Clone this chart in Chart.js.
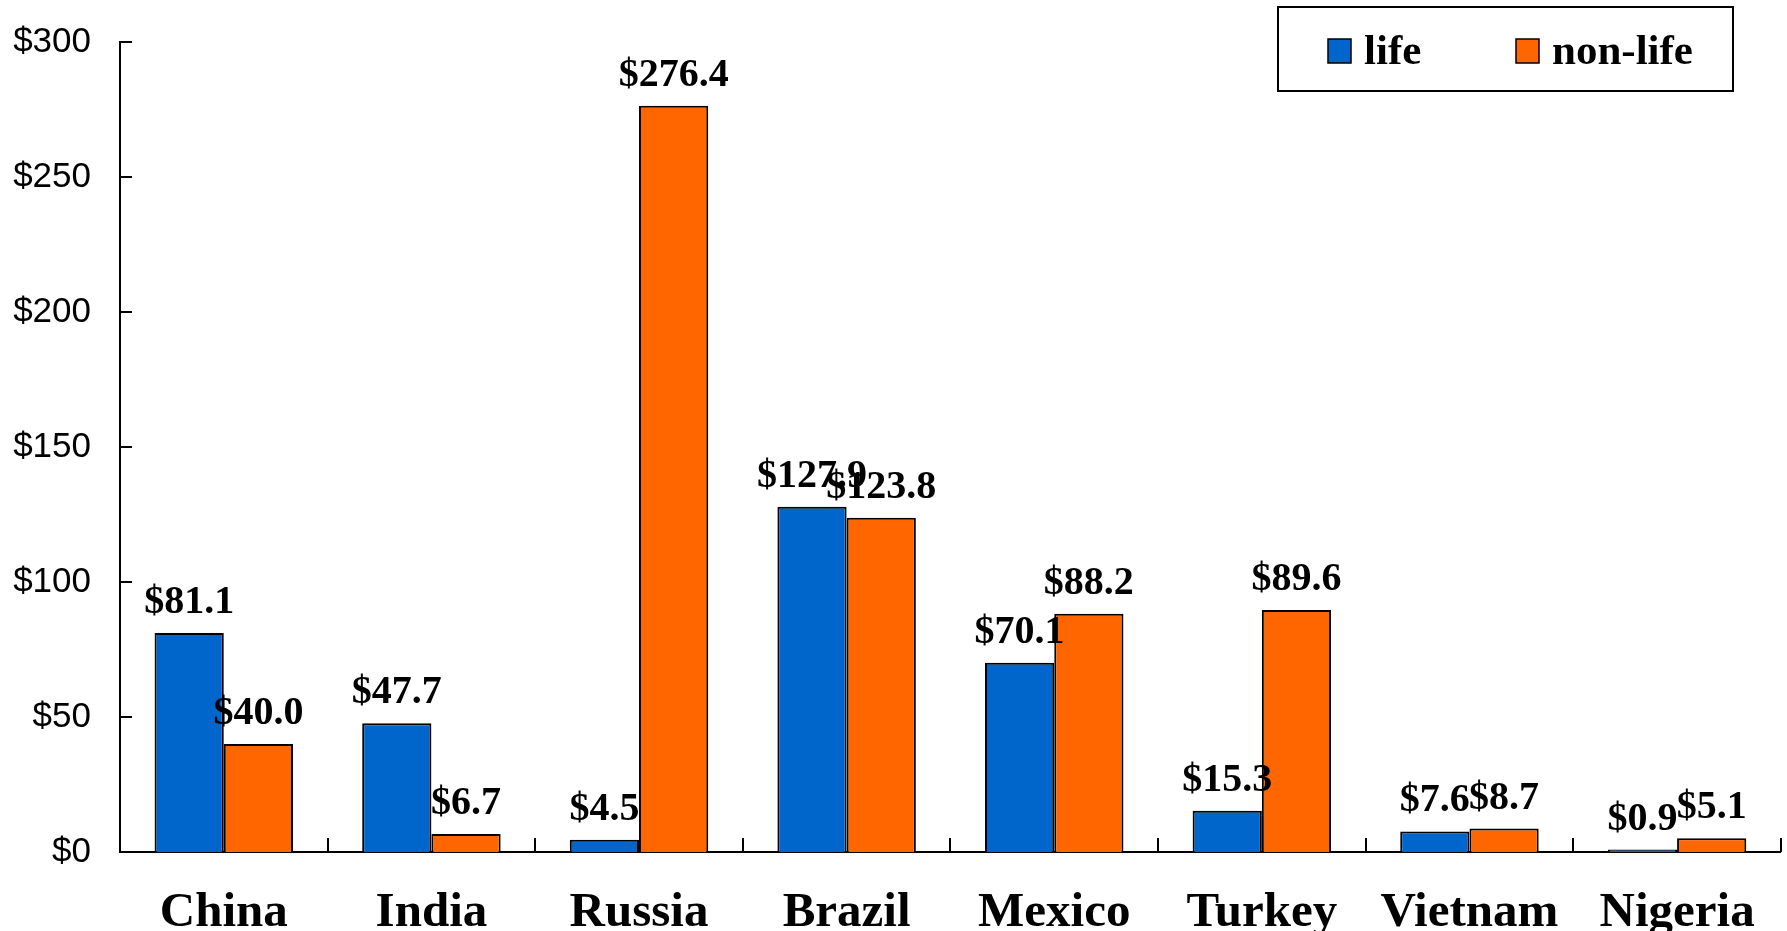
<!DOCTYPE html>
<html>
<head>
<meta charset="utf-8">
<script src="https://cdn.jsdelivr.net/npm/chart.js"></script>
<style>
  body { margin: 0; background: #fff; }
  #wrap { width: 1787px; height: 931px; }
</style>
</head>
<body>
<div id="wrap"><canvas id="chart" width="1787" height="931"></canvas></div>
<script>
const countries = ["China", "India", "Russia", "Brazil", "Mexico", "Turkey", "Vietnam", "Nigeria"];
const life = [81.1, 47.7, 4.5, 127.9, 70.1, 15.3, 7.6, 0.9];
const nonLife = [40.0, 6.7, 276.4, 123.8, 88.2, 89.6, 8.7, 5.1];
const yTicks = [0, 50, 100, 150, 200, 250, 300];

const BLUE = "#0066CC";
const ORANGE = "#FF6600";

// value labels above each bar
const barLabels = {
  id: "barLabels",
  afterDatasetsDraw(chart) {
    const ctx = chart.ctx;
    ctx.save();
    ctx.font = "bold 40px 'Liberation Serif', 'Times New Roman', serif";
    ctx.fillStyle = "#000";
    ctx.textAlign = "center";
    ctx.textBaseline = "alphabetic";
    chart.data.datasets.forEach((ds, i) => {
      chart.getDatasetMeta(i).data.forEach((bar, j) => {
        ctx.fillText("$" + ds.data[j].toFixed(1), bar.x, bar.y - 20);
      });
    });
    ctx.restore();
  }
};

// inward tick marks on both axes
const innerTicks = {
  id: "innerTicks",
  afterDraw(chart) {
    const ctx = chart.ctx;
    const x = chart.scales.x, y = chart.scales.y;
    ctx.save();
    ctx.strokeStyle = "#000";
    ctx.lineWidth = 2;
    ctx.beginPath();
    y.ticks.forEach(t => {
      const py = Math.round(y.getPixelForValue(t.value));
      ctx.moveTo(y.right, py);
      ctx.lineTo(y.right + 12, py);
    });
    const half = (x.getPixelForValue(1) - x.getPixelForValue(0)) / 2;
    for (let i = 0; i <= countries.length; i++) {
      const px = Math.round(x.getPixelForValue(i) - half);
      ctx.moveTo(px, x.top);
      ctx.lineTo(px, x.top - 14);
    }
    ctx.stroke();
    ctx.restore();
  }
};

// boxed legend top right
const boxLegend = {
  id: "boxLegend",
  afterDraw(chart) {
    const ctx = chart.ctx;
    ctx.save();
    ctx.lineWidth = 2;
    ctx.strokeStyle = "#000";
    ctx.strokeRect(1278, 7, 455, 84);
    ctx.font = "bold 43px 'Liberation Serif', 'Times New Roman', serif";
    ctx.textBaseline = "alphabetic";
    ctx.textAlign = "left";
    const xs = [1328, 1516];
    chart.data.datasets.forEach((ds, i) => {
      ctx.fillStyle = ds.backgroundColor;
      ctx.fillRect(xs[i], 39, 23, 24);
      ctx.lineWidth = 1.5;
      ctx.strokeRect(xs[i], 39, 23, 24);
      ctx.fillStyle = "#000";
      ctx.fillText(ds.label, xs[i] + 36, 64);
    });
    ctx.restore();
  }
};

new Chart(document.getElementById("chart"), {
  type: "bar",
  data: {
    labels: countries,
    datasets: [
      {
        label: "life",
        data: life,
        backgroundColor: BLUE,
        borderColor: "#000",
        borderWidth: 2,
        categoryPercentage: 0.667,
        barPercentage: 1,
      },
      {
        label: "non-life",
        data: nonLife,
        backgroundColor: ORANGE,
        borderColor: "#000",
        borderWidth: 2,
        categoryPercentage: 0.667,
        barPercentage: 1,
      },
    ],
  },
  options: {
    responsive: false,
    animation: false,
    devicePixelRatio: 1,
    layout: { padding: { left: 0, right: 6, top: 42, bottom: 0 } },
    plugins: {
      legend: { display: false },
      tooltip: { enabled: false },
    },
    scales: {
      x: {
        grid: { display: false, drawTicks: false },
        border: { color: "#000", width: 2 },
        ticks: {
          color: "#000",
          padding: 32,
          maxRotation: 0,
          font: { family: "'Liberation Serif', 'Times New Roman', serif", size: 49, weight: "bold" },
        },
        afterFit(scale) { scale.height = 79; },
      },
      y: {
        min: 0,
        max: 300,
        afterBuildTicks(scale) { scale.ticks = yTicks.map(v => ({ value: v })); },
        grid: { display: false, drawTicks: false },
        border: { color: "#000", width: 2 },
        ticks: {
          color: "#000",
          padding: 29,
          font: { family: "'Liberation Sans', Arial, sans-serif", size: 35 },
          callback: v => "$" + v,
        },
        afterFit(scale) {
          scale.width = 120;
          scale.paddingTop = 0;
          scale.paddingBottom = 0;
        },
      },
    },
  },
  plugins: [barLabels, innerTicks, boxLegend],
});
</script>
</body>
</html>
